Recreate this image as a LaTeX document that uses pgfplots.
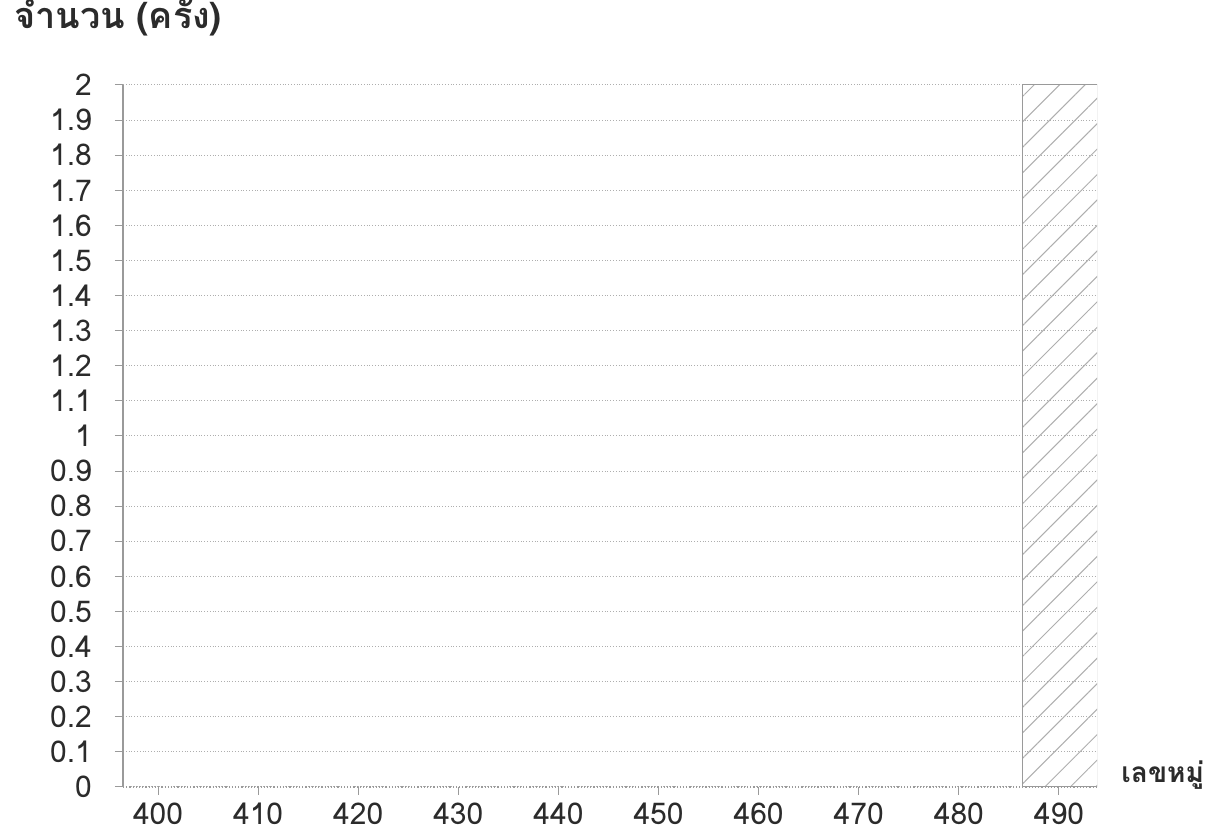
\documentclass[border=0pt]{standalone}
\usepackage{fontspec}
\setmainfont[Script=Thai]{Loma}
\usepackage{pgfplots}
\pgfplotsset{compat=1.18}
\usetikzlibrary{patterns.meta}

\definecolor{ink}{HTML}{2B2B2B}
\definecolor{gridc}{HTML}{9A9A9A}

\begin{document}
\begin{tikzpicture}
\begin{axis}[
	name=ax,
	scale only axis,
	width=487pt,
	height=351pt,
	xmin=396.5, xmax=493.8,
	ymin=0, ymax=2,
	xtick={400,410,...,490},
	ytick={0,0.1,0.2,0.3,0.4,0.5,0.6,0.7,0.8,0.9,1,1.1,1.2,1.3,1.4,1.5,1.6,1.7,1.8,1.9,2},
	axis lines*=left,
	x axis line style={densely dotted, gridc, line width=0.6pt},
	y axis line style={gridc, line width=0.6pt},
	tick style={gridc, line width=0.5pt},
	tick align=outside,
	major tick length=4pt,
	ymajorgrids,
	grid style={densely dotted, gridc!80, line width=0.5pt},
	/pgf/number format/assume math mode=true,
	ticklabel style={font=\fontsize{15}{18}\selectfont, text=ink},
	yticklabel style={xshift=-8pt},
	xticklabel style={inner sep=1pt, yshift=-3pt},
]
% hatched bar at 490
\addplot[ybar, bar width=7.4, draw=gridc, line width=0.5pt,
	pattern={Lines[angle=45, distance=9pt, line width=0.5pt]},
	pattern color=gridc!80]
	coordinates {(490.1,2)};
\end{axis}
\node[anchor=base west, text=ink, font=\bfseries\fontsize{18}{21}\selectfont]
	at ([shift={(-58pt,28pt)}]ax.north west) {จำนวน (ครั้ง)};
\node[anchor=base west, text=ink, inner sep=0pt, font=\bfseries\fontsize{14}{17}\selectfont]
	at ([shift={(12pt,2pt)}]ax.south east) {เลขหมู่};
\pgfresetboundingbox
\path ([shift={(-61.5pt,-26pt)}]ax.south west) rectangle ([shift={(55pt,42.5pt)}]ax.north east);
\end{tikzpicture}
\end{document}
